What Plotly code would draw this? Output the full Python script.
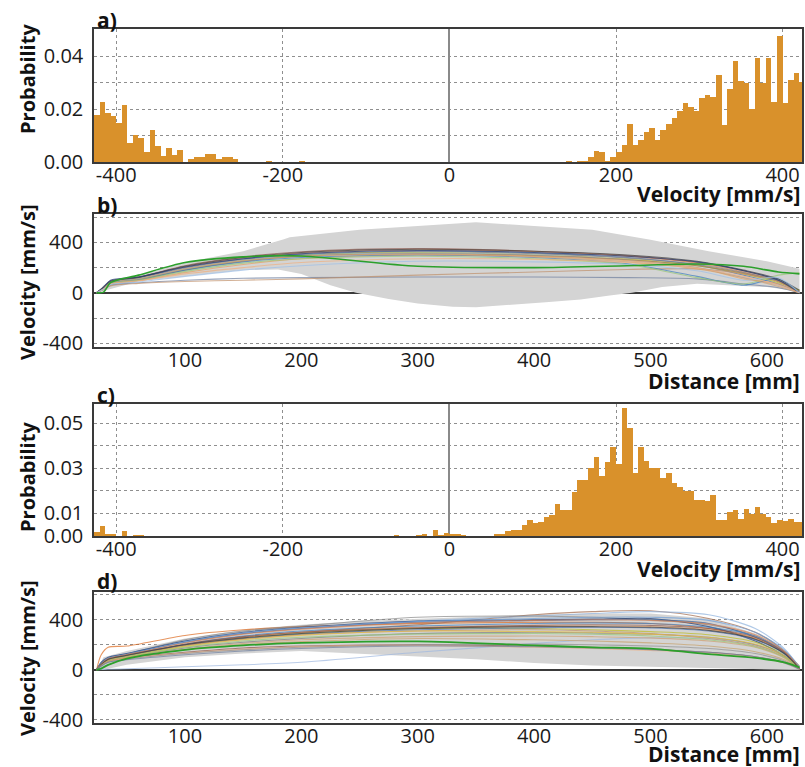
import plotly.graph_objects as go

W, H = 805, 767

# ---------------- velocity histograms (panels a, c) ----------------
BIN_W = 20 / 3                 # mm/s per bin
V_LEFT = -64 * BIN_W           # left edge of first bin
V_RANGE = [-426.7, 423.3]
V_TICKS = [-400, -200, 0, 200, 400]
V_TICKTEXT = ["-400", "-200", "0", "200", "400"]

# probability per bin, 128 bins from V_LEFT
PROB_A = ([0.0178, 0.0228, 0.0184, 0.0172, 0.0147, 0.0216, 0.0071, 0.0103, 0.009,
           0.0038, 0.0122, 0.0059, 0.0021, 0.0053, 0.0028, 0.0044, 0, 0.001, 0.0019,
           0.0019, 0.003, 0.003, 0.001, 0.0019, 0.0019, 0.001]
          + [0] * 5 + [0.0003] + [0] * 5 + [0.0003] + [0] * 47
          + [0.0003, 0, 0.0003, 0.0003, 0.0019, 0.0043, 0.0038, 0.0003, 0.0019, 0.0038,
             0.0063, 0.0144, 0.0063, 0.0082, 0.0113, 0.0128, 0.0082, 0.0122, 0.0144,
             0.0166, 0.0191, 0.0221, 0.0209, 0.0191, 0.024, 0.0252, 0.0247, 0.0329,
             0.0138, 0.0275, 0.0381, 0.0306, 0.0297, 0.0201, 0.0394, 0.0297, 0.0394,
             0.0228, 0.0475, 0.0222, 0.031, 0.0335, 0.0303])

PROB_C = ([0.0019, 0.0043, 0.0011, 0.0011, 0, 0.0024, 0, 0.0003, 0.0003]
          + [0] * 45 + [0.0003] + [0] * 3 + [0.0003]
          + [0.0008, 0, 0.0026, 0.0003, 0.0015, 0.0011, 0.0011, 0.0002]
          + [0] * 5
          + [0.001, 0.001, 0.0022, 0.0027, 0.0027, 0.0048, 0.007, 0.0056, 0.0062, 0.0083,
             0.0091, 0.0142, 0.0117, 0.0117, 0.0196, 0.0247, 0.025, 0.03, 0.0352, 0.0268,
             0.0328, 0.0396, 0.0318, 0.0569, 0.0477, 0.0281, 0.0396, 0.0331, 0.03, 0.03,
             0.0255, 0.028, 0.0237, 0.0218, 0.0198, 0.0198, 0.016, 0.016, 0.0153, 0.0183,
             0.0072, 0.0072, 0.0107, 0.0117, 0.0076, 0.012, 0.0097, 0.013, 0.0097, 0.0083,
             0.0056, 0.0071, 0.0067, 0.0074, 0.0062, 0.0062])

BIN_CENTERS = [V_LEFT + BIN_W * (i + 0.5) for i in range(len(PROB_A))]

# ---------------- velocity along the track (panels b, d) ----------------
D_RANGE = [21.8, 630.2]
D_TICKS = [100, 200, 300, 400, 500, 600]

# panel b: envelope of all runs
B_ENV_UP_X = [24, 30, 40, 60, 100, 150, 185, 190, 250, 300, 350, 400, 450, 500, 550, 600, 628]
B_ENV_UP_Y = [0, 60, 100, 135, 240, 330, 425, 440, 500, 530, 560, 530, 500, 420, 330, 250, 190]
B_ENV_LO_X = [24, 60, 100, 150, 180, 200, 225, 247, 275, 300, 330, 350, 380, 410, 440,
              465, 484, 510, 540, 570, 600, 620, 628]
B_ENV_LO_Y = [0, 90, 130, 180, 185, 150, 60, 0, -50, -85, -110, -115, -96, -75, -53,
              -21, 0, 45, 72, 60, 45, 20, 0]

B_KNOTS = [24, 30, 36, 60, 100, 150, 200, 300, 400, 480, 540, 580, 610, 628]
B_RUNS = [
    [0, 45, 95, 125, 215, 285, 325, 350, 330, 295, 240, 175, 100, 5],
    [0, 40, 90, 120, 205, 275, 315, 340, 325, 290, 235, 165, 90, 10],
    [0, 42, 92, 118, 200, 268, 305, 330, 315, 280, 220, 140, 70, 0],
    [0, 38, 85, 115, 195, 262, 300, 325, 310, 275, 225, 160, 95, 15],
    [0, 35, 80, 110, 185, 255, 295, 320, 300, 265, 215, 150, 80, 20],
    [0, 35, 85, 112, 190, 258, 295, 315, 300, 260, 200, 120, 60, 0],
    [0, 30, 75, 100, 180, 250, 290, 310, 295, 262, 215, 155, 90, 0],
    [0, 30, 70, 95, 160, 225, 270, 300, 290, 255, 200, 110, 70, 0],
    [0, 25, 60, 80, 100, 115, 120, 125, 125, 120, 110, 70, 40, 0],
    [0, 25, 55, 75, 90, 100, 110, 140, 165, 185, 190, 150, 90, 0],
    [0, 35, 80, 105, 180, 245, 280, 300, 280, 230, 130, 60, 110, 0],
    [0, 30, 75, 100, 170, 235, 270, 290, 270, 225, 120, 70, 140, 160],
    [0, 40, 90, 122, 210, 280, 320, 345, 330, 300, 250, 180, 110, 20],
    [0, 35, 82, 110, 190, 255, 290, 305, 285, 245, 190, 120, 50, 0],
    [0, 45, 100, 125, 205, 270, 310, 335, 320, 290, 245, 175, 100, 0],
    [0, 30, 70, 95, 150, 200, 240, 270, 265, 240, 195, 130, 60, 0],
    [0, 28, 65, 85, 130, 180, 215, 250, 245, 225, 175, 100, 120, 0],
    [0, 5, 80, 140, 240, 285, 292, 210, 200, 215, 228, 210, 165, 150],
]
B_COLORS = ["#8c564b", "#dd8452", "#4c72b0", "#7f7f7f", "#bcbd22", "#8fb3de",
            "#a0785a", "#e6a060", "#6f7f9f", "#c0906a", "#3f7fc0", "#98c878",
            "#404040", "#d0a070", "#1f3b73", "#f0b080", "#9fc0e8", "#2ca02c"]

# panel d: envelope of all runs
D_ENV_X = [24, 30, 50, 100, 150, 200, 250, 300, 350, 400, 450, 500, 550, 600, 620, 628]
D_ENV_UP = [0, 100, 150, 250, 320, 360, 390, 410, 425, 440, 450, 450, 410, 260, 120, 30]
D_ENV_LO = [0, 0, 40, 100, 130, 150, 125, 105, 85, 55, 35, 25, 12, 5, 0, 0]

D_KNOTS = [24, 28, 34, 50, 100, 150, 200, 300, 400, 450, 500, 550, 590, 615, 628]
D_RUNS = [
    [0, 120, 180, 190, 275, 320, 345, 370, 380, 380, 370, 330, 250, 140, 15],
    [0, 40, 80, 120, 200, 260, 300, 360, 440, 465, 472, 410, 300, 150, 30],
    [0, 50, 90, 130, 230, 290, 330, 390, 430, 450, 465, 440, 330, 170, 20],
    [0, 45, 85, 125, 240, 310, 350, 420, 430, 420, 400, 360, 270, 140, 15],
    [0, 60, 100, 130, 230, 300, 340, 390, 400, 405, 410, 345, 230, 110, 10],
    [0, 55, 95, 125, 220, 290, 330, 380, 395, 400, 400, 370, 260, 130, 10],
    [0, 45, 85, 115, 200, 260, 300, 340, 350, 350, 345, 320, 250, 140, 10],
    [0, 40, 80, 110, 190, 250, 290, 330, 330, 320, 305, 280, 220, 120, 10],
    [0, 2, 4, 8, 25, 40, 60, 140, 210, 240, 255, 250, 200, 120, 10],
    [0, 40, 70, 95, 140, 175, 190, 200, 190, 180, 165, 140, 105, 60, 10],
    [0, 35, 65, 90, 135, 165, 185, 195, 180, 170, 155, 135, 100, 55, 5],
    [0, 45, 85, 115, 200, 250, 285, 320, 335, 340, 335, 310, 240, 130, 10],
    [0, 40, 75, 105, 175, 220, 250, 290, 300, 295, 285, 260, 200, 110, 10],
    [0, 42, 82, 112, 195, 245, 280, 310, 320, 310, 290, 250, 190, 100, 5],
    [0, 48, 88, 118, 205, 270, 310, 350, 370, 375, 370, 340, 270, 145, 15],
    [0, 38, 75, 105, 185, 240, 275, 310, 305, 300, 285, 260, 205, 110, 10],
    [0, 36, 70, 100, 165, 210, 240, 265, 270, 265, 255, 230, 180, 95, 5],
    [0, 40, 78, 108, 180, 230, 260, 285, 290, 285, 270, 240, 185, 100, 10],
    [0, 30, 60, 85, 130, 160, 180, 200, 205, 200, 190, 170, 130, 70, 5],
    [0, 45, 85, 115, 205, 265, 300, 335, 355, 360, 355, 330, 260, 140, 10],
    [0, 50, 92, 125, 225, 295, 335, 385, 410, 420, 420, 395, 300, 160, 20],
    [0, 48, 90, 122, 215, 285, 325, 375, 395, 400, 395, 365, 280, 150, 15],
    [0, 44, 84, 116, 200, 255, 290, 330, 345, 345, 340, 315, 245, 130, 10],
    [0, 35, 70, 98, 160, 200, 225, 250, 240, 230, 215, 190, 145, 80, 5],
    [0, 30, 60, 80, 120, 150, 170, 190, 185, 175, 160, 140, 105, 55, 5],
    [0, 10, 40, 90, 160, 195, 215, 227, 195, 180, 170, 125, 95, 60, 20],
]
D_COLORS = ["#dd6a1f", "#a0694b", "#8fb3de", "#8a8a8a", "#1f3b73", "#2f5f9f",
            "#e6a060", "#bcbd22", "#9fb8e0", "#8c564b", "#f0b080", "#4c72b0",
            "#7f7f7f", "#c0906a", "#3f7fc0", "#e8c040", "#d0a070", "#98c878",
            "#909090", "#8c564b", "#6f9fd8", "#dd8452", "#404040", "#c8a26b",
            "#6f7f9f", "#2ca02c"]

HIST_COLOR = "#D9912B"
ENV_COLOR = "#d4d4d4"
FONT = "Open Sans"

# pixel layout of the four panels (top, bottom)
PANELS = {"a": (29, 162), "b": (214, 347), "c": (404, 536), "d": (592, 723)}
X_DOM = [94 / W, 802 / W]


def ydom(key):
    top, bot = PANELS[key]
    return [1 - bot / H, 1 - top / H]


fig = go.Figure()

# histograms
fig.add_trace(go.Bar(x=BIN_CENTERS, y=PROB_A, width=BIN_W, marker=dict(color=HIST_COLOR, line=dict(width=0)),
                     xaxis="x", yaxis="y", showlegend=False))
fig.add_trace(go.Bar(x=BIN_CENTERS, y=PROB_C, width=BIN_W, marker=dict(color=HIST_COLOR, line=dict(width=0)),
                     xaxis="x3", yaxis="y3", showlegend=False))

# panel b envelope + runs
fig.add_trace(go.Scatter(x=B_ENV_UP_X + B_ENV_LO_X[::-1], y=B_ENV_UP_Y + B_ENV_LO_Y[::-1],
                         fill="toself", fillcolor=ENV_COLOR, line=dict(width=0), mode="lines",
                         xaxis="x2", yaxis="y2", showlegend=False, hoverinfo="skip"))
for run, col in zip(B_RUNS, B_COLORS):
    is_green = col == "#2ca02c"
    fig.add_trace(go.Scatter(x=B_KNOTS, y=run, mode="lines",
                             line=dict(color=col, width=1.6 if is_green else 1.1, shape="spline", smoothing=0.8),
                             opacity=1.0 if is_green else 0.7, xaxis="x2", yaxis="y2", showlegend=False))

# panel d envelope + runs
fig.add_trace(go.Scatter(x=D_ENV_X + D_ENV_X[::-1], y=D_ENV_UP + D_ENV_LO[::-1],
                         fill="toself", fillcolor=ENV_COLOR, line=dict(width=0), mode="lines",
                         xaxis="x4", yaxis="y4", showlegend=False, hoverinfo="skip"))
for run, col in zip(D_RUNS, D_COLORS):
    is_green = col == "#2ca02c"
    fig.add_trace(go.Scatter(x=D_KNOTS, y=run, mode="lines",
                             line=dict(color=col, width=1.8 if is_green else 1.1, shape="spline", smoothing=0.8),
                             opacity=1.0 if is_green else 0.7, xaxis="x4", yaxis="y4", showlegend=False))

tickfont = dict(family=FONT, size=20, color="#1a1a1a")
frame = dict(showline=True, mirror=True, linecolor="#3a3a3a", linewidth=1.5, ticks="",
             tickfont=tickfont, automargin=False, fixedrange=True)
grid = dict(gridcolor="#8f8f8f", griddash="dot", gridwidth=1)

hist_x = dict(frame, range=V_RANGE, tickmode="array", tickvals=V_TICKS, ticktext=V_TICKTEXT,
              showgrid=True, **grid, zeroline=True, zerolinecolor="#8a8a8a", zerolinewidth=1.5,
              domain=X_DOM, ticklabelstandoff=-6)
dist_x = dict(frame, range=D_RANGE, tickmode="array", tickvals=D_TICKS, showgrid=False,
              zeroline=False, domain=X_DOM, ticklabelstandoff=-6)


def prob_y(key, rng, vals, text):
    return dict(frame, range=rng, tickmode="array", tickvals=vals, ticktext=text, showgrid=True, **grid,
                minor=dict(tickmode="linear", tick0=0, dtick=0.01, showgrid=True, **grid),
                zeroline=False, domain=ydom(key), ticklabelstandoff=5)


def vel_y(key, rng):
    return dict(frame, range=rng, tickmode="array", tickvals=[-400, 0, 400], ticktext=["-400", "0", "400"],
                showgrid=True, **grid,
                minor=dict(tickmode="linear", tick0=0, dtick=200, showgrid=True, **grid),
                zeroline=True, zerolinecolor="#3a3a3a", zerolinewidth=1.5,
                domain=ydom(key), ticklabelstandoff=5)


def px(x):
    return x / W


def py(y):
    return 1 - y / H


ann = []
title_font = dict(family=FONT, size=21, color="#111")
for label, (xx, yy) in {"a)": (95, 20), "b)": (95, 205), "c)": (95, 395), "d)": (95, 581)}.items():
    ann.append(dict(text=f"<b>{label}</b>", x=px(xx), y=py(yy), xref="paper", yref="paper",
                    xanchor="left", yanchor="middle", showarrow=False, font=title_font))
for txt, yy in [("Velocity [mm/s]", 194), ("Distance [mm]", 381), ("Velocity [mm/s]", 569),
                ("Distance [mm]", 754)]:
    ann.append(dict(text=f"<b>{txt}</b>", x=px(802), y=py(yy), xref="paper", yref="paper",
                    xanchor="right", yanchor="middle", showarrow=False, font=title_font))
for txt, yy in [("Probability", 79), ("Velocity [mm/s]", 282), ("Probability", 477),
                ("Velocity [mm/s]", 658)]:
    ann.append(dict(text=f"<b>{txt}</b>", x=px(27), y=py(yy), xref="paper", yref="paper",
                    xanchor="center", yanchor="middle", textangle=-90, showarrow=False,
                    font=dict(title_font, size=20)))

fig.update_layout(
    template="none",
    width=W, height=H,
    margin=dict(l=0, r=0, t=0, b=0),
    paper_bgcolor="white", plot_bgcolor="white",
    bargap=0, barmode="overlay",
    xaxis=dict(hist_x, anchor="y"),
    yaxis=prob_y("a", [0, 0.0502], [0, 0.02, 0.04], ["0.00", "0.02", "0.04"]) | dict(anchor="x"),
    xaxis2=dict(dist_x, anchor="y2"),
    yaxis2=vel_y("b", [-430, 625]) | dict(anchor="x2"),
    xaxis3=dict(hist_x, anchor="y3"),
    yaxis3=prob_y("c", [0, 0.0585], [0, 0.01, 0.03, 0.05], ["0.00", "0.01", "0.03", "0.05"]) | dict(anchor="x3"),
    xaxis4=dict(dist_x, anchor="y4"),
    yaxis4=vel_y("d", [-425, 622]) | dict(anchor="x4"),
    annotations=ann,
    showlegend=False,
)

fig.write_html("out.html")
